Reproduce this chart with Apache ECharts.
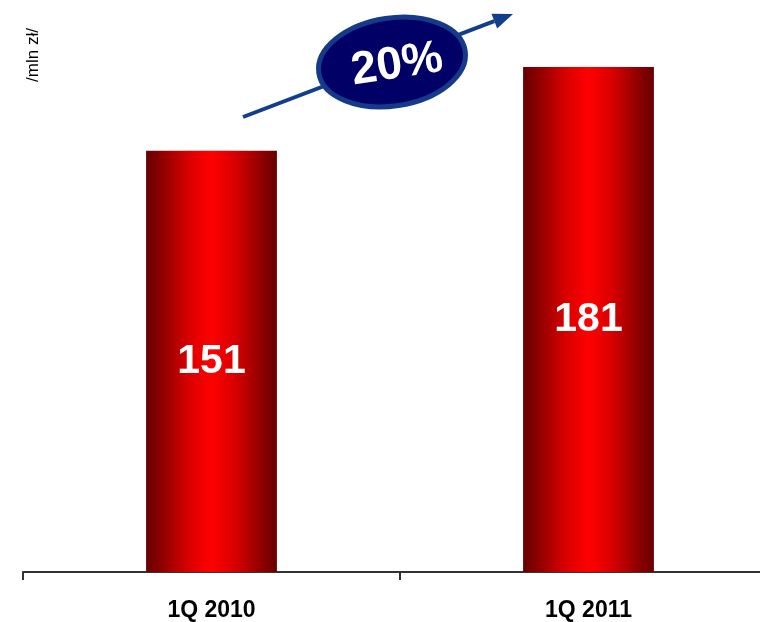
<!DOCTYPE html>
<html><head><meta charset="utf-8">
<script src="https://cdn.jsdelivr.net/npm/echarts@6/dist/echarts.min.js"></script>
<style>html,body{margin:0;padding:0;background:#fff;overflow:hidden}#c{width:780px;height:622px}</style>
</head><body><div id="c"></div>
<script>
const categories = ['1Q 2010', '1Q 2011'];
const values = [151, 181];
const unitLabel = '/mln zł/';
const growthLabel = '20%';

const chart = echarts.init(document.getElementById('c'), null, {renderer: 'canvas'});
const barGrad = new echarts.graphic.LinearGradient(0, 0, 1, 0, [
  {offset: 0, color: '#660000'},
  {offset: 0.15, color: '#9a0000'},
  {offset: 0.32, color: '#d80000'},
  {offset: 0.5, color: '#ff0000'},
  {offset: 0.68, color: '#d80000'},
  {offset: 0.85, color: '#9a0000'},
  {offset: 1, color: '#660000'}
]);

// growth arrow geometry (annotation)
const ax0 = 243, ay0 = 117, ax1 = 513, ay1 = 14;
const ang = Math.atan2(ay1 - ay0, ax1 - ax0);
const hl = 20, hw = 8;
const bx = ax1 - hl * Math.cos(ang), by = ay1 - hl * Math.sin(ang);
const nx = -Math.sin(ang), ny = Math.cos(ang);

const option = {
  animation: false,
  backgroundColor: '#ffffff',
  grid: {left: 23, right: 3, top: 14, bottom: 50, containLabel: false},
  xAxis: {
    type: 'category',
    data: categories,
    axisLine: {lineStyle: {color: '#333333', width: 2}},
    axisTick: {show: true, length: 8, lineStyle: {color: '#333333', width: 2}},
    axisLabel: {
      margin: 27, color: '#000000', fontFamily: 'Liberation Sans, Arial, sans-serif',
      fontWeight: 'bold', fontSize: 23
    }
  },
  yAxis: {
    type: 'value', min: 0, max: 200, show: false
  },
  series: [{
    type: 'bar',
    data: values,
    barWidth: '34.7%',
    itemStyle: {color: barGrad},
    label: {
      show: true, position: 'inside', color: '#ffffff',
      fontFamily: 'Liberation Sans, Arial, sans-serif', fontWeight: 'bold', fontSize: 41
    }
  }],
  graphic: [
    {
      type: 'text', x: 33, y: 55, rotation: Math.PI / 2,
      style: {text: unitLabel, x: 0, y: 0, align: 'center', verticalAlign: 'middle',
        font: '17px "Liberation Sans", Arial, sans-serif', fill: '#000000'}
    },
    {
      type: 'line',
      shape: {x1: ax0, y1: ay0, x2: bx, y2: by},
      style: {stroke: '#123f8c', lineWidth: 4}
    },
    {
      type: 'polygon',
      shape: {points: [[ax1, ay1], [bx + nx * hw, by + ny * hw], [bx - nx * hw, by - ny * hw]]},
      style: {fill: '#123f8c'}
    },
    {
      type: 'ellipse',
      x: 392, y: 62, rotation: 0.15,
      shape: {cx: 0, cy: 0, rx: 74, ry: 44},
      style: {fill: '#000066', stroke: '#163a8a', lineWidth: 5}
    },
    {
      type: 'text', x: 397, y: 65, rotation: 0.15,
      style: {text: growthLabel, x: 0, y: 0, align: 'center', verticalAlign: 'middle',
        font: 'bold 46px "Liberation Sans", Arial, sans-serif', fill: '#ffffff'}
    }
  ]
};
chart.setOption(option);
</script>
</body></html>
